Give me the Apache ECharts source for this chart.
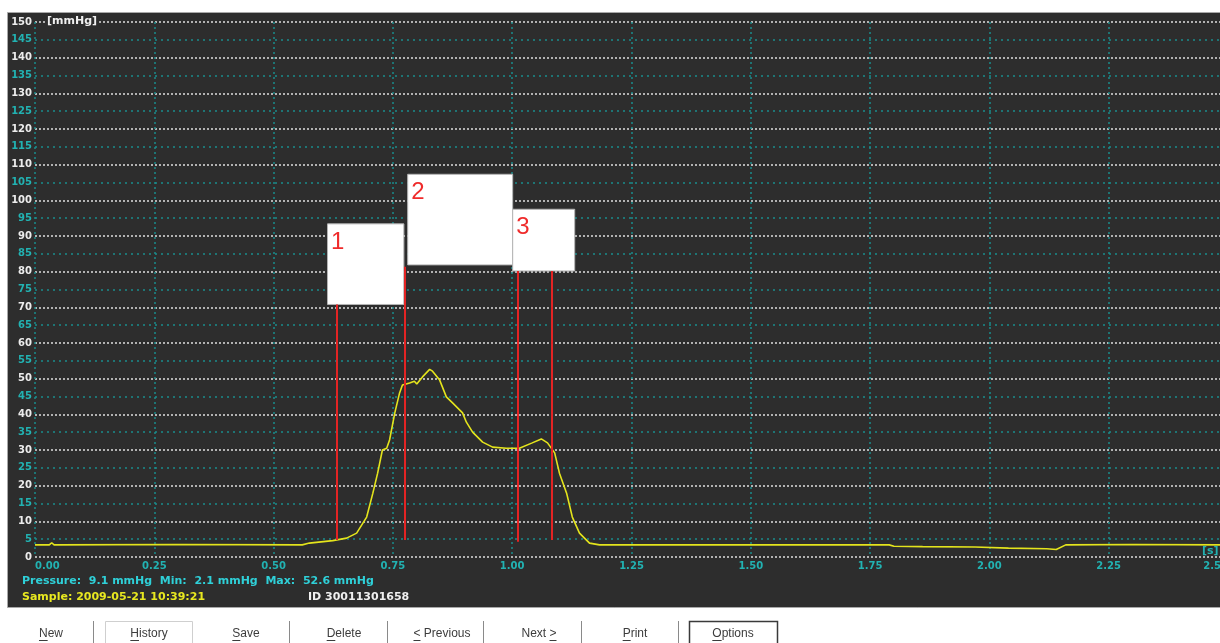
<!DOCTYPE html>
<html><head><meta charset="utf-8">
<script src="https://cdn.jsdelivr.net/npm/echarts@6.0.0/dist/echarts.min.js"></script>
<style>html,body{margin:0;padding:0;background:#fff}#c{width:1220px;height:643px}</style>
</head><body><div id="c"></div>
<script>
// ---- data ----
const times = [0.00,0.03,0.035,0.04,0.30,0.56,0.575,0.624,0.653,0.674,0.695,0.708,0.718,0.728,0.737,0.743,0.754,0.764,0.770,0.785,0.795,0.800,0.812,0.827,0.833,0.848,0.862,0.875,0.896,0.904,0.917,0.938,0.959,0.988,1.015,1.042,1.061,1.074,1.089,1.099,1.114,1.126,1.141,1.162,1.183,1.50,1.79,1.80,1.86,1.97,2.04,2.12,2.14,2.16,2.30,2.50];
const pressure = [3.4,3.4,4.0,3.4,3.5,3.4,3.9,4.6,5.3,6.7,11.2,17.9,23.5,30.0,30.5,32.8,40.4,46.0,48.2,48.8,49.3,48.5,50.5,52.6,52.1,49.6,44.9,43.2,40.4,37.8,35.0,32.2,30.8,30.5,30.5,32.0,33.1,32.0,29.2,23.5,17.9,11.2,6.7,3.9,3.4,3.4,3.4,3.0,2.9,2.8,2.5,2.3,2.1,3.4,3.5,3.4];
const markerTimes = [0.632,0.775,1.012,1.082];
const markerBottoms = [4.8,4.8,4.3,4.8];
const markerTops = [70.8,81.4,80.2,80.2];
const boxLabels = ['1','2','3'];
const boxX0 = [0.613,0.781,1.001];
const boxX1 = [0.773,1.001,1.131];
const boxTop = [93.4,107.3,97.5];
const boxBottom = [70.8,81.9,80.2];
const yName = '[mmHg]';
const xName = '[s]';
const infoLine = 'Pressure:  9.1 mmHg  Min:  2.1 mmHg  Max:  52.6 mmHg';
const sampleLine = 'Sample: 2009-05-21 10:39:21';
const idLine = 'ID 30011301658';
const buttons = ['New','History','Save','Delete','< Previous','Next >','Print','Options'];
const mnemonicIndex = [0,0,0,0,0,5,0,0];

// ---- styles ----
const TEAL_TXT = '#22b2b2';
const TEAL_LINE = '#1a8c8c';
const PANEL = '#2d2d2d';
const F = 'DejaVu Sans';
const BTN_FONT = '12px "Liberation Sans"';

const btnX = [51,149,246,344,442,539,635,733];
const sepX = [93,289,387,483,581,678];

const graphics = [
  {type:'rect', z:-10, shape:{x:7.5,y:12.5,width:1230,height:595}, style:{fill:PANEL, stroke:'#a8a8a8', lineWidth:1}},
  {type:'text', z:100, left:45, top:16, style:{text:yName, fill:'#f0f0f0', font:'bold 11px "DejaVu Sans"', backgroundColor:PANEL, padding:[0,2]}},
  {type:'text', z:100, left:1202, top:546, style:{text:xName, fill:TEAL_TXT, font:'bold 11px "DejaVu Sans"'}},
  {type:'text', z:100, left:22, top:576, style:{text:infoLine, fill:'#2fd0d8', font:'bold 11px "DejaVu Sans"'}},
  {type:'text', z:100, left:22, top:592, style:{text:sampleLine, fill:'#e8e820', font:'bold 11px "DejaVu Sans"'}},
  {type:'text', z:100, left:308, top:592, style:{text:idLine, fill:'#f0f0f0', font:'bold 11px "DejaVu Sans"'}},
  {type:'rect', z:5, shape:{x:105.5,y:621.5,width:87,height:30}, style:{fill:'#fff', stroke:'#cfcfcf', lineWidth:1}},
  {type:'rect', z:5, shape:{x:689.5,y:621.5,width:88,height:30}, style:{fill:'#fff', stroke:'#3a3a3a', lineWidth:1.5}}
];
sepX.forEach(x => graphics.push({type:'line', z:6, shape:{x1:x+0.5,y1:621,x2:x+0.5,y2:643}, style:{stroke:'#8a8a8a', lineWidth:1}}));
const ctx = document.createElement('canvas').getContext('2d');
ctx.font = BTN_FONT;
buttons.forEach((b,i) => {
  graphics.push({type:'text', z:10, x:btnX[i], y:634, style:{text:b, fill:'#3c3c3c', font:BTN_FONT, align:'center', verticalAlign:'middle'}});
  const w = ctx.measureText(b).width;
  const k = mnemonicIndex[i];
  const x0 = btnX[i] - w/2 + ctx.measureText(b.slice(0,k)).width;
  const x1 = x0 + ctx.measureText(b[k]).width;
  graphics.push({type:'line', z:10, shape:{x1:x0,y1:640.5,x2:x1,y2:640.5}, style:{stroke:'#3c3c3c', lineWidth:1}});
});

const chart = echarts.init(document.getElementById('c'), null, {renderer:'canvas'});
chart.setOption({
  animation:false,
  backgroundColor:'#ffffff',
  grid:{left:35, top:22, width:1193, height:535, outerBoundsMode:'none', containLabel:false},
  xAxis:{
    type:'value', min:0, max:2.5, interval:0.25,
    axisLine:{show:false}, axisTick:{show:false},
    axisLabel:{color:TEAL_TXT, fontFamily:F, fontWeight:'bold', fontSize:10, margin:4,
      formatter:v=>v.toFixed(2), alignMinLabel:'left', alignMaxLabel:'right', hideOverlap:false},
    splitLine:{show:true, lineStyle:{color:TEAL_LINE, type:[2,3], width:1.5}}
  },
  yAxis:[
    {type:'value', min:0, max:150, interval:5,
      axisLine:{show:false}, axisTick:{show:false},
      axisLabel:{fontFamily:F, fontWeight:'bold', fontSize:10, margin:3,
        color:(v)=> (Math.round(v)%10===0 ? '#ececec' : TEAL_TXT)},
      splitLine:{show:true, lineStyle:{color:['#d4d4d4','rgba(0,0,0,0)'], type:[2,2], width:1.6}}},
    {type:'value', min:0, max:150, interval:5,
      axisLine:{show:false}, axisTick:{show:false}, axisLabel:{show:false},
      splitLine:{show:true, lineStyle:{color:['rgba(0,0,0,0)',TEAL_LINE], type:[2,4], width:1.5}}}
  ],
  series:[{
    type:'line', z:3,
    data: times.map((t,i)=>[t,pressure[i]]),
    showSymbol:false, symbol:'none',
    lineStyle:{color:'#e4e41c', width:1.6},
    markLine:{silent:true, symbol:['none','none'], label:{show:false}, emphasis:{disabled:true},
      lineStyle:{color:'#e32424', width:2, type:'solid'},
      data: markerTimes.map((t,i)=>[{coord:[t,markerBottoms[i]]},{coord:[t,markerTops[i]]}])},
    markArea:{silent:true,
      itemStyle:{color:'#ffffff', borderColor:'#b4b4b4', borderWidth:1},
      label:{show:true, position:'insideTopLeft', distance:4, offset:[0,3], color:'#ef2b2b', fontFamily:'Liberation Sans', fontSize:24},
      data: boxLabels.map((n,i)=>[{name:n, coord:[boxX0[i],boxTop[i]]},{coord:[boxX1[i],boxBottom[i]]}])}
  }],
  graphic: graphics
});
</script></body></html>
